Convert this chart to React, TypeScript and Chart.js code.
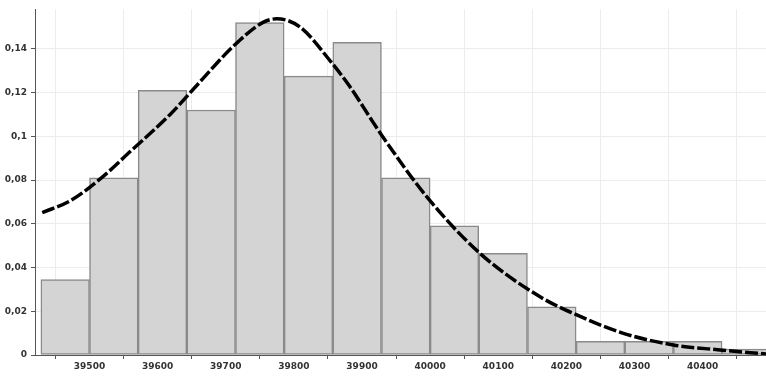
import React, { useEffect, useRef } from "react";
import { Chart, registerables } from "chart.js";

Chart.register(...registerables);

// Histogram bins (left edges) and relative frequencies
const binStarts = [39428.6, 39500, 39571.4, 39642.9, 39714.3, 39785.7, 39857.1, 39928.6, 40000, 40071.4, 40142.9, 40214.3, 40285.7, 40357.1, 40428.6];
const binWidth = 71.43;
const binHeights = [0.0345, 0.081, 0.121, 0.112, 0.152, 0.1275, 0.143, 0.081, 0.059, 0.0465, 0.022, 0.0062, 0.0062, 0.0062, 0.0027];

// Fitted density curve
const curveX = [39430.6, 39471.7, 39515.7, 39559.7, 39618.4, 39662.5, 39711.3, 39755.4, 39775.0, 39809.2, 39853.2, 39882.6, 39911.9, 39929.1, 39995.2, 40073.4, 40161.4, 40210.3, 40283.7, 40357.0, 40425.5, 40493];
const curveY = [0.0651, 0.0705, 0.0805, 0.0930, 0.1100, 0.1250, 0.1412, 0.1522, 0.1537, 0.1499, 0.1345, 0.1225, 0.1085, 0.1004, 0.0723, 0.0464, 0.0266, 0.0190, 0.0099, 0.0046, 0.0023, 0.0005];

// Axis ticks
const xTicks = [39500, 39600, 39700, 39800, 39900, 40000, 40100, 40200, 40300, 40400];
const yTicks = [0, 0.02, 0.04, 0.06, 0.08, 0.1, 0.12, 0.14];
const xMin = 39420;
const xMax = 40493;
const yMax = 0.158;

export default function App() {
  const ref = useRef<HTMLCanvasElement | null>(null);

  useEffect(() => {
    if (!ref.current) return;
    const font = { family: "DejaVu Sans", size: 9, weight: "bold" as const };
    const chart = new Chart(ref.current, {
      type: "bar",
      data: {
        datasets: [
          {
            type: "line",
            data: curveX.map((x, i) => ({ x, y: curveY[i] })),
            borderColor: "#000000",
            borderWidth: 3.5,
            borderDash: [13, 3],
            pointRadius: 0,
            cubicInterpolationMode: "monotone",
            fill: false,
          } as any,
          {
            type: "bar",
            data: binStarts.map((s, i) => ({ x: s + binWidth / 2, y: binHeights[i] })),
            backgroundColor: "#d4d4d4",
            borderColor: "#8a8a8a",
            borderWidth: 1.5,
            borderSkipped: false,
            barPercentage: 1,
            categoryPercentage: 1,
          } as any,
        ],
      },
      options: {
        responsive: false,
        animation: false,
        layout: { padding: { top: 8, left: 0, right: 0, bottom: 0 } },
        plugins: { legend: { display: false }, tooltip: { enabled: false } },
        scales: {
          x: {
            type: "linear",
            min: xMin,
            max: xMax,
            offset: false,
            afterBuildTicks: (s: any) => {
              s.ticks = xTicks.map((v) => ({ value: v }));
            },
            afterFit: (s: any) => {
              s.height = 21;
            },
            ticks: {
              font,
              color: "#333333",
              padding: 2,
              maxRotation: 0,
              autoSkip: false,
              callback: (v: any) => String(v),
            },
            grid: { color: "#ececec", tickColor: "#555555", tickLength: 4, lineWidth: 1 },
            border: { display: true, color: "#555555", width: 1 },
          },
          y: {
            type: "linear",
            min: 0,
            max: yMax,
            afterBuildTicks: (s: any) => {
              s.ticks = yTicks.map((v) => ({ value: v }));
            },
            afterFit: (s: any) => {
              s.width = 35;
            },
            ticks: {
              font,
              color: "#333333",
              padding: 4,
              callback: (v: any) => String(v).replace(".", ","),
            },
            grid: { color: "#ececec", tickColor: "#555555", tickLength: 4, lineWidth: 1 },
            border: { display: true, color: "#555555", width: 1 },
          },
        },
      },
    });
    return () => chart.destroy();
  }, []);

  return (
    <div style={{ position: "absolute", left: 0, top: 0, width: 766, height: 376, background: "#ffffff" }}>
      <canvas ref={ref} width={766} height={376} style={{ display: "block" }} />
    </div>
  );
}
